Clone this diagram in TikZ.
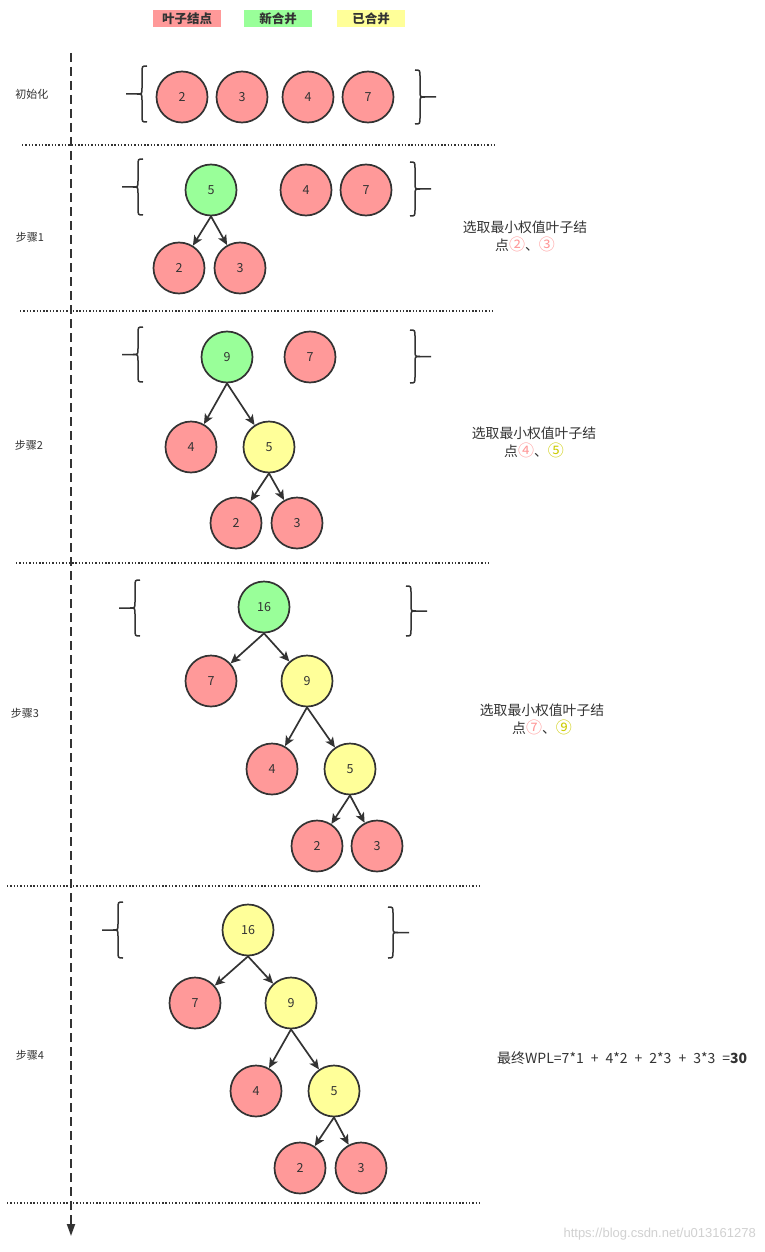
\documentclass[tikz,border=0pt]{standalone}
\usepackage{fontspec}
\setmainfont{Noto Sans CJK SC}
\newfontfamily\wmfont{Liberation Sans}
\usetikzlibrary{arrows.meta}
\definecolor{leafred}{HTML}{FF9999}
\definecolor{newgreen}{HTML}{99FF99}
\definecolor{oldyellow}{HTML}{FFFF99}
\definecolor{ink}{HTML}{333333}
\definecolor{olive}{HTML}{CCCC00}
\newcommand\cnum[2]{{\color{#1}\fontsize{16}{18}\selectfont #2}}
\tikzset{
  tn/.style={circle,draw=ink,line width=1.7pt,minimum size=51pt,inner sep=0pt,font=\fontsize{12.5}{14}\selectfont,text=ink},
  leaf/.style={tn,fill=leafred},
  newm/.style={tn,fill=newgreen},
  oldm/.style={tn,fill=oldyellow},
  edge/.style={draw=ink,line width=1.7pt,-{Stealth[length=10pt,width=9pt,inset=2.5pt]}},
  brace/.style={draw=ink,line width=1.5pt},
  sep/.style={draw=ink,line width=1.4pt,dash pattern=on 1.4pt off 1.9pt},
  steplabel/.style={font=\fontsize{11}{13}\selectfont,text=ink},
  note/.style={font=\fontsize{13.8}{18}\selectfont,text=ink,align=center},
  legend/.style={minimum width=68pt,minimum height=17pt,inner sep=0pt,font=\fontsize{12.5}{14}\selectfont\bfseries,text=ink}
}
\newcommand\LBr[3]{%
  \pgfmathsetmacro\bV{#1-5}\pgfmathsetmacro\bL{#1-21}\pgfmathsetmacro\bW{#1-10}\pgfmathsetmacro\bM{(#2+#3)/2}
  \draw[brace] (#1,#2) .. controls (\bV,#2) .. (\bV,#2+7) -- (\bV,\bM-6) .. controls (\bV,\bM) .. (\bW,\bM) -- (\bL,\bM);
  \draw[brace] (\bW,\bM) .. controls (\bV,\bM) .. (\bV,\bM+6) -- (\bV,#3-7) .. controls (\bV,#3) .. (#1,#3);
}
\newcommand\RBr[3]{%
  \pgfmathsetmacro\bV{#1+5}\pgfmathsetmacro\bL{#1+21}\pgfmathsetmacro\bW{#1+10}\pgfmathsetmacro\bM{(#2+#3)/2}
  \draw[brace] (#1,#2) .. controls (\bV,#2) .. (\bV,#2+7) -- (\bV,\bM-6) .. controls (\bV,\bM) .. (\bW,\bM) -- (\bL,\bM);
  \draw[brace] (\bW,\bM) .. controls (\bV,\bM) .. (\bV,\bM+6) -- (\bV,#3-7) .. controls (\bV,#3) .. (#1,#3);
}
\begin{document}
\begin{tikzpicture}[x=1pt,y=-1pt]
\useasboundingbox[fill=white] (0,0) rectangle (765,1252);

% legend
\node[legend,fill=leafred] (lg1) at (187,18.5) {叶子结点};
\node[legend,fill=newgreen] (lg2) at (278,18.5) {新合并};
\node[legend,fill=oldyellow] (lg3) at (371,18.5) {已合并};

% timeline
\coordinate (ts) at (71,53);
\coordinate (te) at (71,1236);
\draw[draw=ink,line width=1.9pt,dash pattern=on 9pt off 5pt,-{Triangle[length=12pt,width=8pt]}] (ts) -- (te);

% separators
\coordinate (s1a) at (22,145); \coordinate (s1b) at (497,145);
\coordinate (s2a) at (20,311); \coordinate (s2b) at (494,311);
\coordinate (s3a) at (16,563); \coordinate (s3b) at (490,563);
\coordinate (s4a) at (7,886);  \coordinate (s4b) at (482,886);
\coordinate (s5a) at (7,1203); \coordinate (s5b) at (482,1203);
\draw[sep] (s1a) -- (s1b);
\draw[sep] (s2a) -- (s2b);
\draw[sep] (s3a) -- (s3b);
\draw[sep] (s4a) -- (s4b);
\draw[sep] (s5a) -- (s5b);

% step labels
\node[steplabel] (l0) at (32,94) {初始化};
\node[steplabel] (l1) at (30,237) {步骤1};
\node[steplabel] (l2) at (29,445) {步骤2};
\node[steplabel] (l3) at (25,713) {步骤3};
\node[steplabel] (l4) at (30,1055) {步骤4};

% init
\LBr{147}{66}{122}
\RBr{415}{70}{124}
\node[leaf] (i2) at (182,97) {2};
\node[leaf] (i3) at (242,97) {3};
\node[leaf] (i4) at (308,97) {4};
\node[leaf] (i7) at (368,97) {7};

% step 1
\LBr{143}{159}{215}
\RBr{410}{162}{216}
\node[newm] (a5) at (211,190) {5};
\node[leaf] (a4) at (306,190) {4};
\node[leaf] (a7) at (366,190) {7};
\node[leaf] (a2) at (179,268) {2};
\node[leaf] (a3) at (240,268) {3};
\draw[edge] (a5.south) -- (a2);
\draw[edge] (a5.south) -- (a3);
\node[note] (n1) at (525,236) {选取最小权值叶子结\\点\cnum{leafred}{②}、\cnum{leafred}{③}};

% step 2
\LBr{143}{327}{382}
\RBr{410}{330}{383}
\node[newm] (b9) at (227,357) {9};
\node[leaf] (b7) at (310,357) {7};
\node[leaf] (b4) at (191,447) {4};
\node[oldm] (b5) at (269,447) {5};
\node[leaf] (b2) at (236,523) {2};
\node[leaf] (b3) at (297,523) {3};
\draw[edge] (b9.south) -- (b4);
\draw[edge] (b9.south) -- (b5);
\draw[edge] (b5.south) -- (b2);
\draw[edge] (b5.south) -- (b3);
\node[note] (n2) at (534,442) {选取最小权值叶子结\\点\cnum{leafred}{④}、\cnum{olive}{⑤}};

% step 3
\LBr{140}{580}{636}
\RBr{406}{586}{636}
\node[newm] (c16) at (264,607) {16};
\node[leaf] (c7) at (211,681) {7};
\node[oldm] (c9) at (307,681) {9};
\node[leaf] (c4) at (272,769) {4};
\node[oldm] (c5) at (350,769) {5};
\node[leaf] (c2) at (317,846) {2};
\node[leaf] (c3) at (377,846) {3};
\draw[edge] (c16.south) -- (c7);
\draw[edge] (c16.south) -- (c9);
\draw[edge] (c9.south) -- (c4);
\draw[edge] (c9.south) -- (c5);
\draw[edge] (c5.south) -- (c2);
\draw[edge] (c5.south) -- (c3);
\node[note] (n3) at (542,719) {选取最小权值叶子结\\点\cnum{leafred}{⑦}、\cnum{olive}{⑨}};

% step 4
\LBr{123}{902}{958}
\RBr{388}{907}{958}
\node[oldm] (d16) at (248,930) {16};
\node[leaf] (d7) at (195,1003) {7};
\node[oldm] (d9) at (291,1003) {9};
\node[leaf] (d4) at (256,1091) {4};
\node[oldm] (d5) at (334,1091) {5};
\node[leaf] (d2) at (300,1168) {2};
\node[leaf] (d3) at (361,1168) {3};
\draw[edge] (d16.south) -- (d7);
\draw[edge] (d16.south) -- (d9);
\draw[edge] (d9.south) -- (d4);
\draw[edge] (d9.south) -- (d5);
\draw[edge] (d5.south) -- (d2);
\draw[edge] (d5.south) -- (d3);
\node[note,anchor=west,inner sep=0pt,font=\fontsize{14}{18}\selectfont] (n4) at (497,1058) {最终WPL=7*1\hspace{7pt}+\hspace{7pt}4*2\hspace{7pt}+\hspace{7pt}2*3\hspace{7pt}+\hspace{7pt}3*3\hspace{7pt}=\textbf{30}};

% watermark
\node[anchor=east,inner sep=0pt,text=black!18,font=\wmfont\fontsize{13}{15}\selectfont] (wm) at (756,1234) {https://blog.csdn.net/u013161278};
\end{tikzpicture}
\end{document}
